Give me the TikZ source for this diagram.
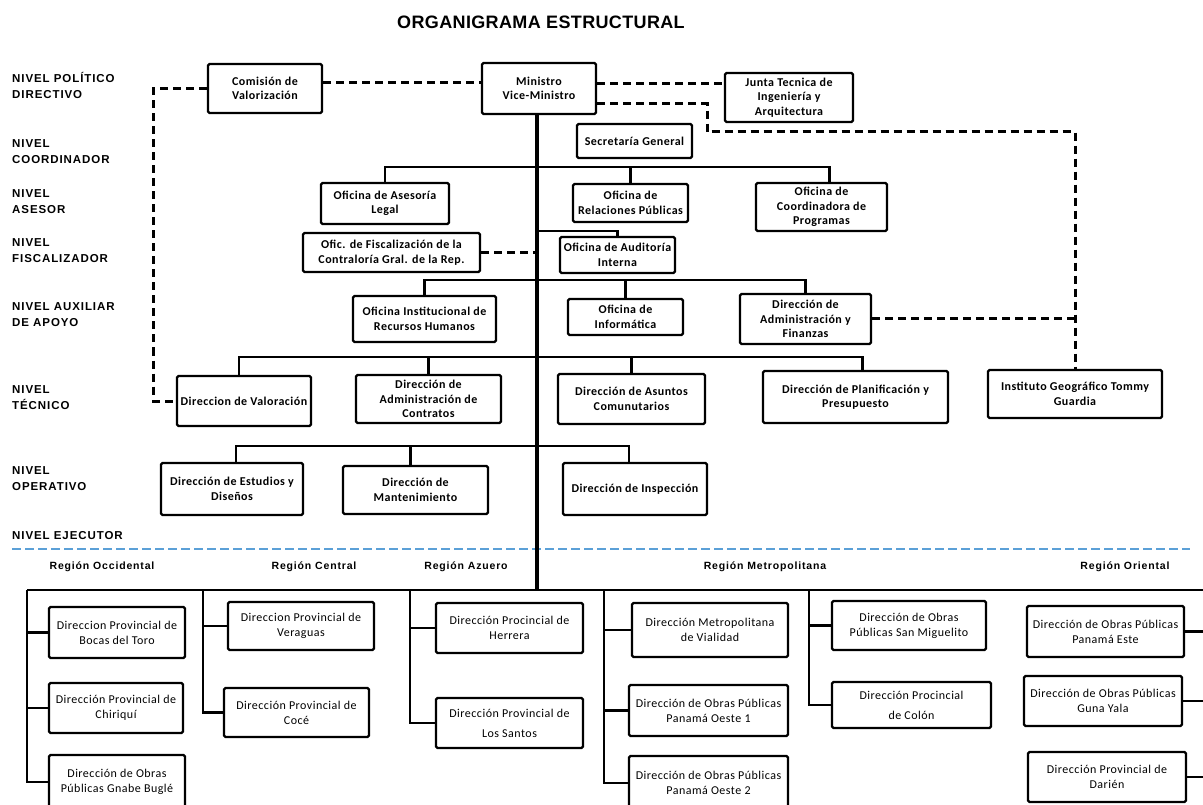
\documentclass[tikz,border=0pt]{standalone}
\usepackage{fontspec}
\setmainfont{Carlito}
\newfontfamily\lblfont[LetterSpace=8]{Liberation Sans}
\newfontfamily\ttlfont[LetterSpace=2]{Liberation Sans}
\newfontfamily\boxfont[LetterSpace=4]{Carlito}
\usetikzlibrary{calc}
\definecolor{sepblue}{RGB}{91,160,215}
\tikzset{
  box/.style={draw, line width=2.4pt, fill=white, rounded corners=1.5pt, align=center, inner sep=1pt,
    font=\boxfont\bfseries\fontsize{12}{14.5}\selectfont},
  lbox/.style={box, font=\boxfont\fontsize{12}{15}\selectfont},
  wh/.style 2 args={minimum width=#1pt, minimum height=#2pt},
  conn/.style={line width=2.4pt},
  trunk/.style={line width=3.6pt},
  dsh/.style={line width=3pt, dash pattern=on 8pt off 5pt},
  sep/.style={line width=2.6pt, color=sepblue, dash pattern=on 9pt off 4pt},
  lvl/.style={anchor=west, align=left, inner sep=0pt, font=\lblfont\bfseries\fontsize{11.5}{16}\selectfont},
  reg/.style={inner sep=0pt, font=\lblfont\bfseries\fontsize{10.5}{12}\selectfont},
}
\begin{document}
\begin{tikzpicture}[x=1pt,y=-1pt]
\useasboundingbox (0,0) rectangle (1203,805);
\clip (0,0) rectangle (1203,805);

% title
\node[font=\ttlfont\bfseries\fontsize{18}{21}\selectfont, inner sep=0pt] (title) at (541,22.5) {ORGANIGRAMA ESTRUCTURAL};

% level labels
\node[lvl] (l1) at (12,85) {NIVEL POLÍTICO\\DIRECTIVO};
\node[lvl] (l2) at (12,152) {NIVEL\\COORDINADOR};
\node[lvl] (l3) at (12,202) {NIVEL\\ASESOR};
\node[lvl] (l4) at (12,250.5) {NIVEL\\FISCALIZADOR};
\node[lvl] (l5) at (12,315) {NIVEL AUXILIAR\\DE APOYO};
\node[lvl] (l6) at (12,398) {NIVEL\\TÉCNICO};
\node[lvl] (l7) at (12,479) {NIVEL\\OPERATIVO};
\node[lvl] (l8) at (12,536) {NIVEL EJECUTOR};

% upper boxes
\node[box,wh={114}{49}] (com) at (265,88.5) {Comisión de\\Valorización};
\node[box,wh={114}{51}] (min) at (539,88.5) {Ministro\\Vice-Ministro};
\node[box,wh={128}{49}] (jun) at (789,97.5) {Junta Tecnica de\\Ingeniería y\\Arquitectura};
\node[box,wh={115}{34}] (sec) at (634.5,141) {Secretaría General};
\node[box,wh={128}{41}] (ase) at (385,203.5) {Oficina de Asesoría\\Legal};
\node[box,wh={115}{38}] (rel) at (630.5,203) {Oficina de\\Relaciones Públicas};
\node[box,wh={131}{48}] (coo) at (821.5,207) {Oficina de\\Coordinadora de\\Programas};
\node[box,wh={177}{39}] (fis) at (391.5,252.5) {Ofic. de Fiscalización de la\\Contraloría Gral. de la Rep.};
\node[box,wh={115}{36}] (aud) at (617.5,255) {Oficina de Auditoría\\Interna};
\node[box,wh={143}{46}] (rrh) at (424.5,319) {Oficina Institucional de\\Recursos Humanos};
\node[box,wh={115}{36}] (inf) at (625.5,317) {Oficina de\\Informática};
\node[box,wh={131}{50}] (adm) at (805.5,319) {Dirección de\\Administración y\\Finanzas};
\node[box,wh={174}{48}] (igt) at (1075,394) {Instituto Geográfico Tommy\\Guardia};
\node[box,wh={134}{50}] (val) at (244,401) {Direccion de Valoración};
\node[box,wh={145}{48}] (con) at (428.5,399) {Dirección de\\Administración de\\Contratos};
\node[box,wh={147}{50}] (asu) at (631.5,399) {Dirección de Asuntos\\Comunutarios};
\node[box,wh={185}{52}] (pla) at (855.5,397) {Dirección de Planificación y\\Presupuesto};
\node[box,wh={142}{52}] (est) at (232,489) {Dirección de Estudios y\\Diseños};
\node[box,wh={145}{48}] (man) at (415.5,490) {Dirección de\\Mantenimiento};
\node[box,wh={144}{52}] (ins) at (635,489) {Dirección de Inspección};

% separator
\coordinate (sepL) at (12,549);
\coordinate (sepR) at (1190,549);
\draw[sep] (sepL) -- (sepR);

% regions
\node[reg] (rocc) at (102,567) {Región Occidental};
\node[reg] (rcen) at (314,567) {Región Central};
\node[reg] (razu) at (466,567) {Región Azuero};
\node[reg] (rmet) at (765,567) {Región Metropolitana};
\node[reg] (rori) at (1125,567) {Región Oriental};

% lower boxes
\node[lbox,wh={136}{51}] (boc) at (117,632.5) {Direccion Provincial de\\Bocas del Toro};
\node[lbox,wh={134}{50}] (chi) at (116,708) {Dirección Provincial de\\Chiriquí};
\node[lbox,wh={136}{54}] (ngb) at (117,782) {Dirección de Obras\\Públicas Gnabe Buglé};
\node[lbox,wh={146}{48}] (ver) at (301,626) {Direccion Provincial de\\Veraguas};
\node[lbox,wh={145}{49}] (coc) at (296.5,712.5) {Dirección Provincial de\\Cocé};
\node[lbox,wh={147}{50}] (her) at (509.5,628) {Dirección Procincial de\\Herrera};
\node[lbox,wh={147}{50}] (san) at (509.5,723) {Dirección Provincial de\\[5pt]Los Santos};
\node[lbox,wh={156}{54}] (via) at (710,630) {Dirección Metropolitana\\de Vialidad};
\node[lbox,wh={159}{51}] (oe1) at (708.5,710.5) {Dirección de Obras Públicas\\Panamá Oeste 1};
\node[lbox,wh={159}{54}] (oe2) at (708.5,783) {Dirección de Obras Públicas\\Panamá Oeste 2};
\node[lbox,wh={154}{49}] (smg) at (909,625.5) {Dirección de Obras\\Públicas San Miguelito};
\node[lbox,wh={159}{46}] (col) at (911.5,705) {Dirección Procincial\\[5pt]de Colón};
\node[lbox,wh={157}{51}] (pes) at (1105.5,631.5) {Dirección de Obras Públicas\\Panamá Este};
\node[lbox,wh={158}{50}] (gun) at (1103,701) {Dirección de Obras Públicas\\Guna Yala};
\node[lbox,wh={158}{50}] (dar) at (1107,777) {Dirección Provincial de\\Darién};

% trunk
\coordinate (T) at (537,590);
\draw[trunk] (min.south -| T) -- (T);

% dashed relations
\coordinate (cm) at ($(com.east)+(0,-6)$);
\draw[dsh] (cm) -- (cm -| min.west);
\coordinate (mj) at ($(min.east)+(0,-5)$);
\draw[dsh] (mj) -- (mj -| jun.west);
\coordinate (mi) at ($(min.east)+(0,15)$);
\coordinate (k1) at (707,132);
\draw[dsh] (mi) -| (k1) -| (igt.north);
\draw[dsh] (adm.east) -- (adm.east -| igt.north);
\draw[dsh] (com.west) -- ++(-53,0) |- (val.west);
\draw[dsh] (fis.east) -- (fis.east -| T);

% coordinator / advisory bus
\draw[conn] (ase.north) -- ++(0,-15) -| ($(coo.north)+(8,0)$);
\draw[conn] (rel.north) -- ++(0,-16);
% audit
\draw[conn] (aud.north) -- ++(0,-5) coordinate (t1) -- (t1 -| T);
% auxiliary bus
\draw[conn] (rrh.north) -- ++(0,-15) -| (adm.north);
\draw[conn] (inf.north) -- ++(0,-18);
% technical bus
\draw[conn] ($(val.north)+(-5,0)$) -- ++(0,-18) -| ($(pla.north)+(7,0)$);
\draw[conn] (con.north) -- ++(0,-17);
\draw[conn] (asu.north) -- ++(0,-16);
% operative bus
\draw[conn] ($(est.north)+(4,0)$) -- ++(0,-16) -| ($(ins.north)+(-6,0)$);
\draw[conn] ($(man.north)+(-5,0)$) -- ++(0,-19);

% executive bus
\coordinate (occ) at (27,590);
\coordinate (cen) at (203,590);
\coordinate (azu) at (410,590);
\coordinate (me1) at (604,590);
\coordinate (me2) at (809,590);
\coordinate (ori) at (1207,590);
\draw[conn] (occ) -- (ori);
\draw[conn] (occ) |- (ngb.west);
\draw[conn] (occ |- boc.west) -- (boc.west);
\draw[conn] (occ |- chi.west) -- (chi.west);
\draw[conn] (cen) |- (coc.west);
\draw[conn] (cen |- ver.west) -- (ver.west);
\draw[conn] (azu) |- (san.west);
\draw[conn] (azu |- her.west) -- (her.west);
\draw[conn] (me1) |- (oe2.west);
\draw[conn] (me1 |- via.west) -- (via.west);
\draw[conn] (me1 |- oe1.west) -- (oe1.west);
\draw[conn] (me2) |- (col.west);
\draw[conn] (me2 |- smg.west) -- (smg.west);
\draw[conn] (ori) |- (dar.east);
\draw[conn] (pes.east) -- (pes.east -| ori);
\draw[conn] (gun.east) -- (gun.east -| ori);
\end{tikzpicture}
\end{document}
